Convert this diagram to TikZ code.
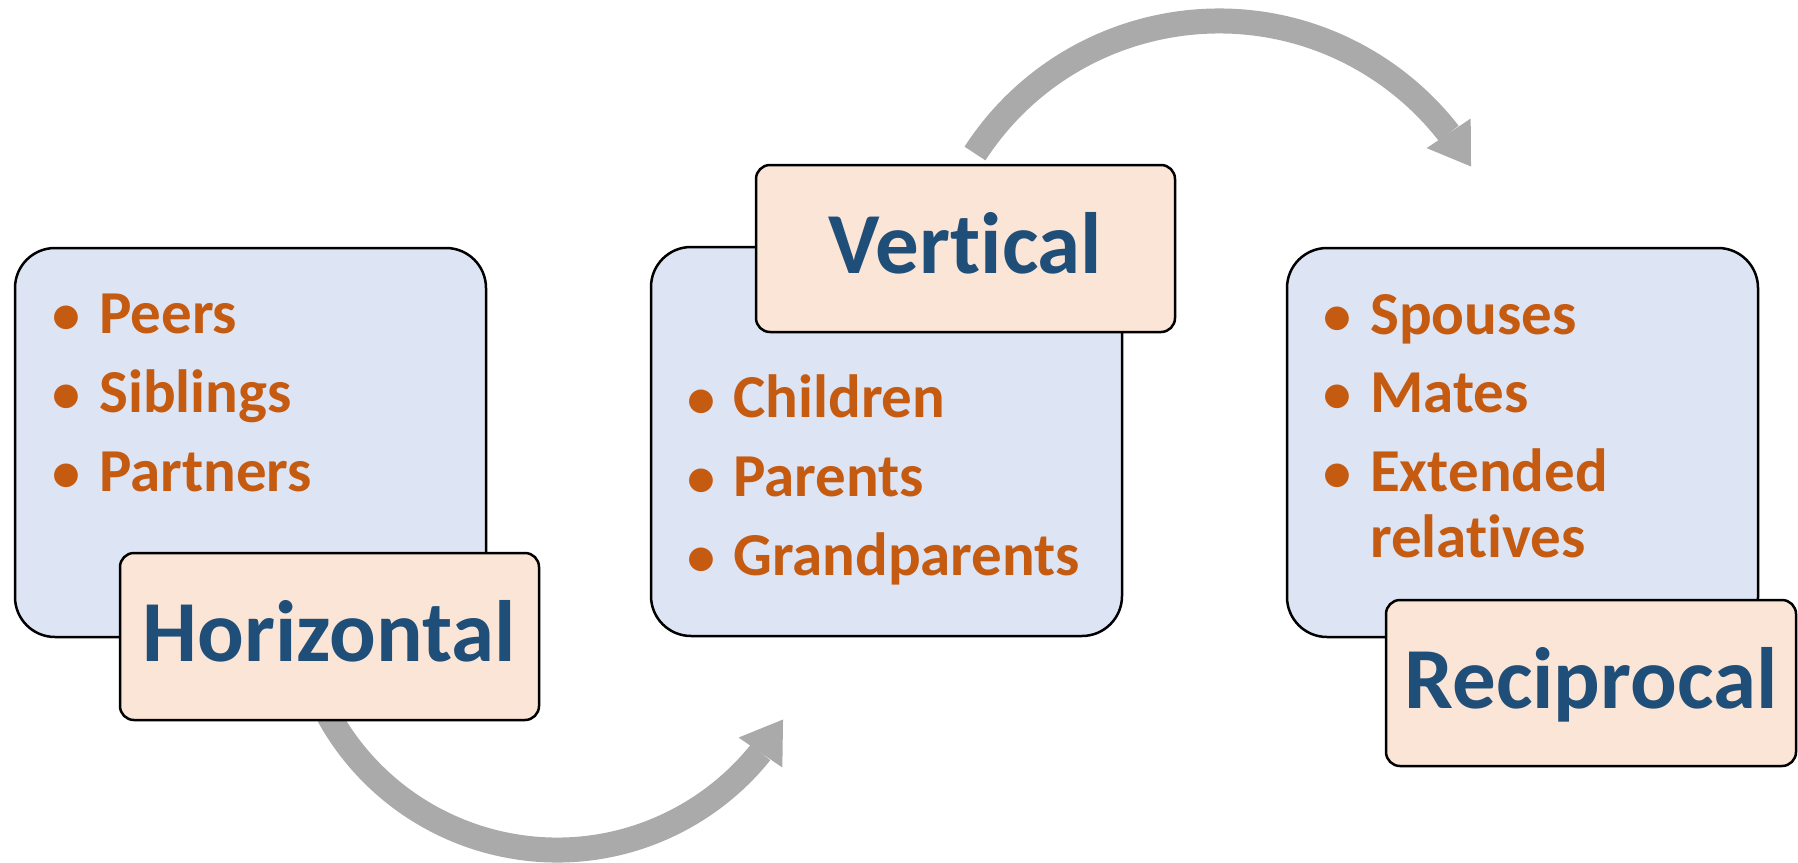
\documentclass[tikz,border=0pt]{standalone}
\usepackage{fontspec}
\setmainfont{Carlito}[Ligatures=NoCommon]
\usetikzlibrary{arrows.meta,bending}
\definecolor{boxblue}{HTML}{DDE4F3}
\definecolor{peach}{HTML}{FBE5D6}
\definecolor{itemorange}{HTML}{C55A11}
\definecolor{labelblue}{HTML}{1F4E79}
\definecolor{arrowgray}{HTML}{AAAAAA}
\begin{document}
\begin{tikzpicture}[x=1pt,y=1pt,
  bluebox/.style={draw=black, line width=2.5pt, fill=boxblue, rounded corners=40pt,
    minimum width=471pt, minimum height=389pt, inner sep=0pt},
  labelbox/.style={draw=black, line width=2.5pt, fill=peach, rounded corners=14pt,
    minimum width=419pt, minimum height=167pt, inner sep=0pt,
    font=\fontsize{87}{90}\selectfont\bfseries, text=labelblue,
    text height=60pt, text depth=10pt},
  itemtext/.style={anchor=base west, inner sep=0pt,
    font=\fontsize{61}{64}\selectfont\bfseries, text=itemorange},
  bulletmark/.style={anchor=base, inner sep=0pt,
    font=\fontsize{56}{60}\selectfont\bfseries, text=itemorange},
  flow/.style={draw=arrowgray, line width=25pt,
    -{Triangle[width=53pt,length=40pt,line width=0pt]}}
]
\useasboundingbox (0,0) rectangle (1798,-862);

% arc centres
\coordinate (cb) at (557,-589);
\coordinate (ct) at (1219,-312);

% curved arrows
\draw[flow] (cb) ++(209:261) coordinate (bstart) arc[start angle=209, end angle=330, radius=261];
\draw[flow] (ct) ++(147:291) coordinate (tstart) arc[start angle=147, end angle=30, radius=291];

% blue boxes
\node[bluebox] (b1) at (250.5,-442.5) {};
\node[bluebox] (b2) at (886.5,-441.5) {};
\node[bluebox] (b3) at (1522.5,-442.5) {};

% items box 1
\node[bulletmark] (b1m1) at (66,-333) {•};
\node[itemtext]   (b1t1) at (99,-333) {Peers};
\node[bulletmark] (b1m2) at (66,-412) {•};
\node[itemtext]   (b1t2) at (99,-412) {Siblings};
\node[bulletmark] (b1m3) at (66,-491) {•};
\node[itemtext]   (b1t3) at (99,-491) {Partners};

% items box 2
\node[bulletmark] (b2m1) at (701,-417) {•};
\node[itemtext]   (b2t1) at (733,-417) {Children};
\node[bulletmark] (b2m2) at (701,-496) {•};
\node[itemtext]   (b2t2) at (733,-496) {Parents};
\node[bulletmark] (b2m3) at (701,-575) {•};
\node[itemtext]   (b2t3) at (733,-575) {Grandparents};

% items box 3
\node[bulletmark] (b3m1) at (1337,-334) {•};
\node[itemtext]   (b3t1) at (1370,-334) {Spouses};
\node[bulletmark] (b3m2) at (1337,-412) {•};
\node[itemtext]   (b3t2) at (1370,-412) {Mates};
\node[bulletmark] (b3m3) at (1337,-491) {•};
\node[itemtext]   (b3t3) at (1370,-491) {Extended};
\node[itemtext]   (b3t4) at (1370,-557) {relatives};

% label boxes
\node[labelbox] (l1) at (329.5,-636.5) {Horizontal};
\node[labelbox] (l2) at (965.5,-248.5) {Vertical};
\node[labelbox, minimum width=410pt, minimum height=166pt] (l3) at (1591,-683) {Reciprocal};
\end{tikzpicture}
\end{document}
